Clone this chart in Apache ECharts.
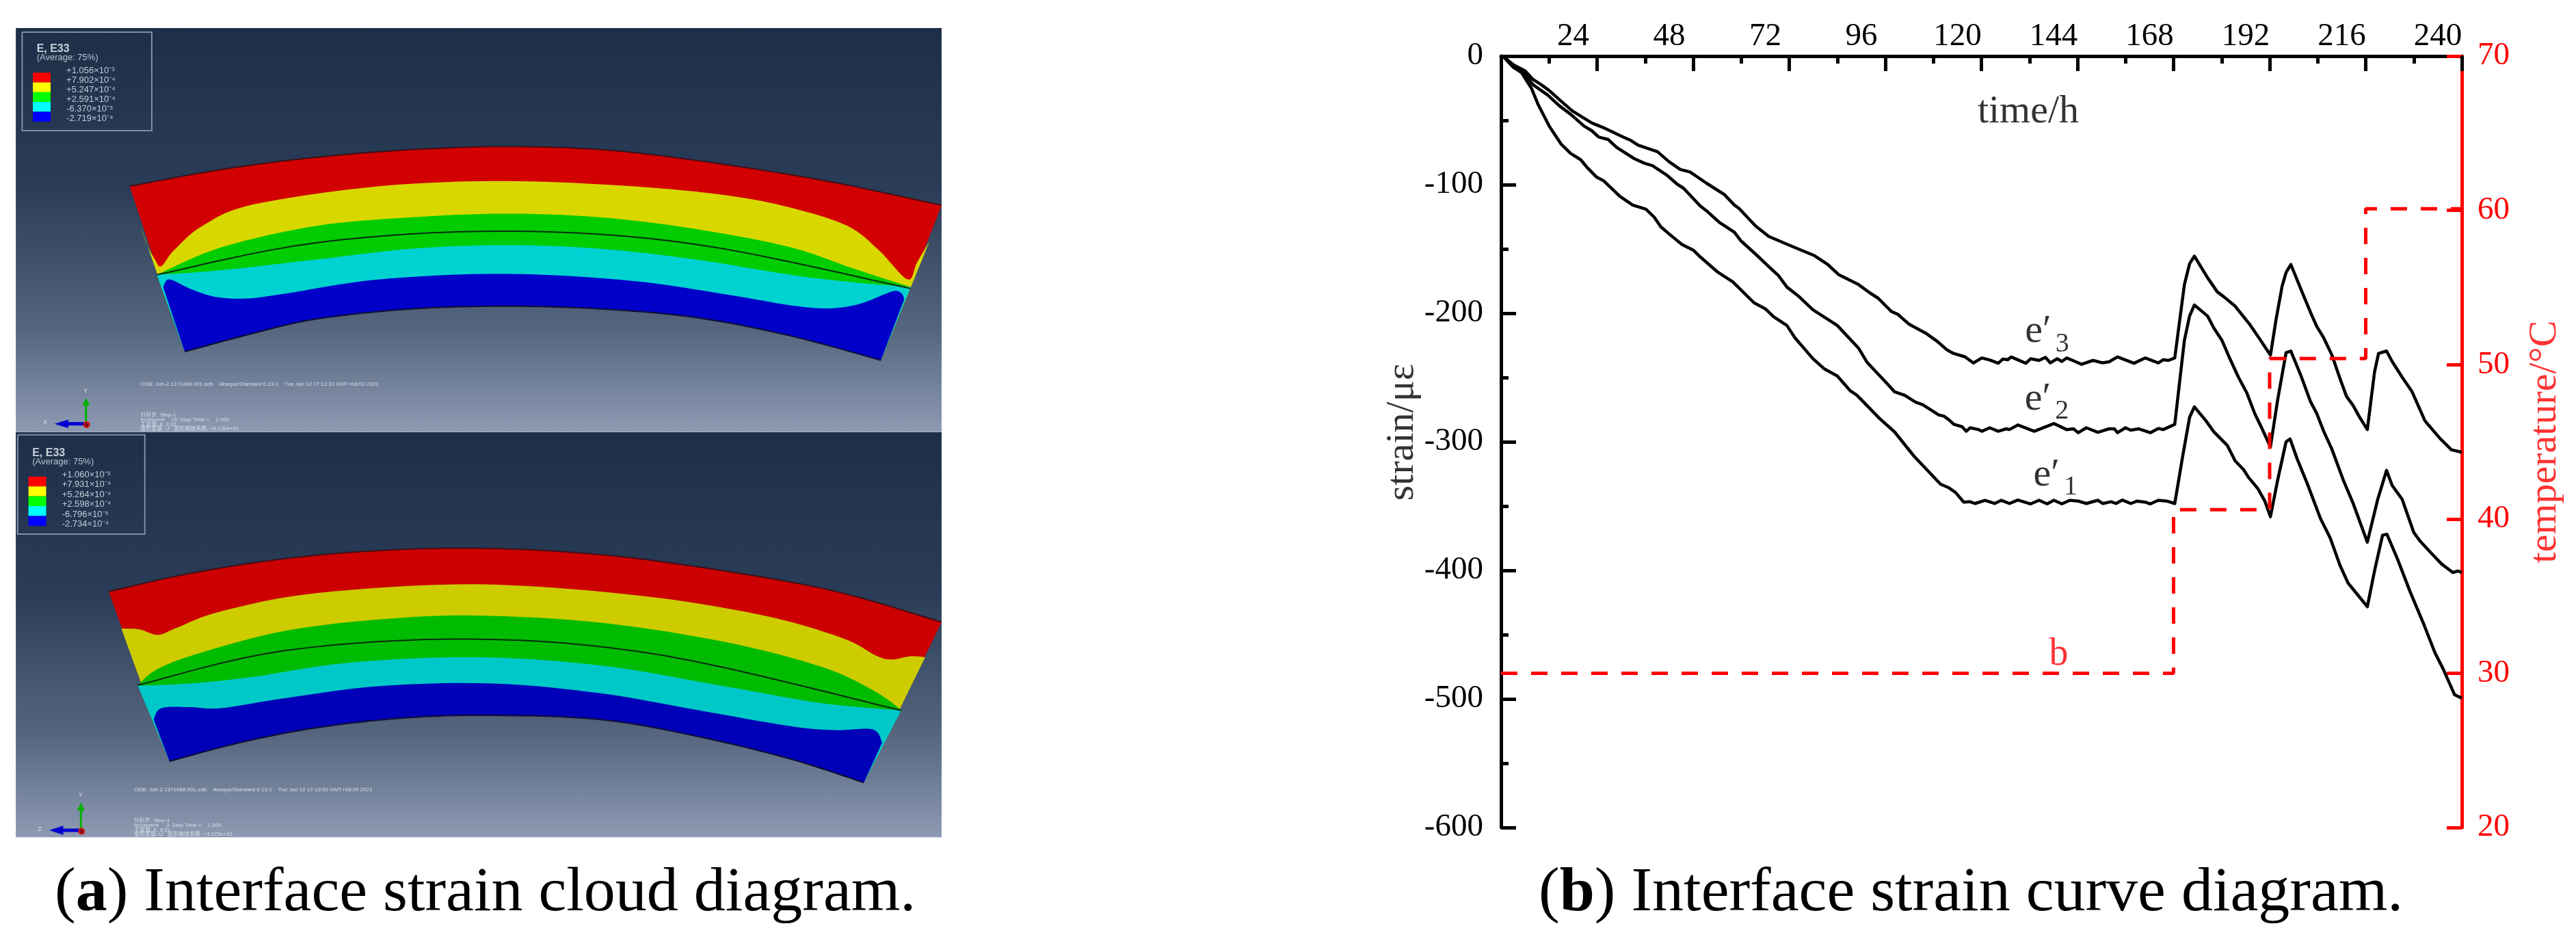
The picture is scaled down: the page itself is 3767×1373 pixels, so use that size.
<!DOCTYPE html>
<html><head><meta charset="utf-8">
<style>html,body{margin:0;padding:0;background:#fff}#c{width:3767px;height:1373px}</style>
<script src="https://cdn.jsdelivr.net/npm/echarts@6/dist/echarts.min.js"></script>
</head><body><div id="c"></div>
<script>
// ---- panel (b) data: [time h, strain]
const e3Curve=[[0,0],[0.65,-0.5],[3.1,-6.8],[6,-11.4],[8,-18.2],[10.05,-22.3],[12.1,-26.9],[15,-35],[17.8,-42.6],[22.7,-52.1],[26,-56.2],[30.1,-62.4],[32.5,-65.7],[34.2,-69.2],[39.1,-74.4],[41.9,-82],[44.8,-88.2],[47.2,-90.1],[51.3,-98.8],[55.8,-107.7],[58.3,-115.9],[59.5,-118.6],[63.6,-132.2],[66.9,-140.3],[72.6,-147.9],[78.3,-155.2],[81.6,-162],[84.4,-170.1],[89.3,-177.7],[92.2,-184.3],[94.2,-188.3],[97.5,-198.6],[99.1,-200.8],[102,-208.7],[106.1,-215.5],[108.9,-221.7],[111.4,-228.5],[113,-231.2],[115.9,-233.9],[118,-238.7],[120.1,-234.8],[122.1,-236.4],[124.2,-238.9],[125.4,-235.6],[126.6,-236.2],[127.4,-234],[131.1,-238.9],[132.3,-235.4],[134.4,-236.7],[136,-234.3],[137.2,-238.6],[138.9,-235.4],[140.1,-237.5],[141.3,-234.8],[143.4,-237.5],[145,-239.7],[147.9,-236.7],[150.3,-238.6],[151.9,-237.8],[154,-234],[158.1,-238.9],[160.9,-234.8],[164.2,-238.6],[165.4,-236.2],[166.7,-236.7],[168.3,-234.8],[170.7,-177.8],[172,-161.5],[173.2,-155.6],[176.5,-172.4],[178.9,-183.3],[180.6,-187.3],[183.4,-194.6],[187.1,-209],[189.5,-219.9],[192.2,-232.6],[193.6,-205],[195.1,-179.2],[196.1,-168.3],[197.3,-162.1],[200.6,-187.3],[202.6,-202.2],[203.8,-210.4],[205.5,-219.1],[207.5,-232.1],[209.6,-251.1],[211.2,-264.7],[212.8,-271.5],[214.5,-281],[216.4,-290.5],[218.2,-245.7],[219.2,-231.3],[221.2,-229.4],[222.6,-237.5],[225.1,-249.7],[227.5,-260.6],[230.8,-283.7],[234.5,-297.2],[237.4,-306.2],[240,-308.1]];
const e2Curve=[[0,0],[0.65,-0.5],[3.1,-8.7],[5.6,-12.8],[8,-22.3],[11.7,-30.4],[14.5,-38.5],[17.4,-45.3],[20.7,-54.3],[22.7,-58.1],[24.4,-63],[26.8,-64.9],[28.9,-71.1],[33.3,-79.8],[35.8,-83.3],[37.8,-85.2],[41.5,-92.8],[44,-99.6],[45.6,-102.8],[49.7,-116.4],[51.7,-121.3],[54.6,-129.5],[58.3,-137],[59.9,-143.6],[64,-155.2],[67.7,-166.1],[69.3,-170.7],[71.4,-179.6],[74.2,-186.4],[77.9,-197.3],[84,-209.5],[89.3,-227.1],[91.4,-238],[96.3,-254.3],[98.3,-261.1],[100.8,-263.8],[103.6,-269.2],[105.3,-271.1],[109.4,-279.2],[110.6,-280],[111.9,-282.9],[113.1,-286.4],[115.2,-288.3],[116.2,-291.8],[117.2,-289.1],[119.3,-290.5],[120.1,-291.8],[122.1,-289.1],[124.2,-291.8],[126.2,-289.9],[127,-290.5],[129.1,-286.9],[133.2,-291.8],[138.1,-285.8],[141.3,-290.5],[143,-289.9],[144.2,-292.9],[146.2,-289.1],[149.1,-292.6],[151.9,-289.9],[153.2,-289.9],[154,-292.9],[156,-289.1],[157.3,-291],[159.3,-289.9],[162.2,-292.9],[164.2,-289.6],[165.4,-290.5],[168.3,-286.4],[170.7,-221.2],[172,-202.2],[173.2,-193.6],[176.5,-202.2],[178.1,-211.7],[180.1,-221.2],[181.8,-233.5],[184.2,-249.7],[186.3,-262],[188.3,-278.2],[190,-289.1],[192.2,-304],[194,-267.4],[196.1,-230.7],[197.3,-229.4],[199.8,-248.4],[202.2,-268.7],[203.8,-278.2],[205.5,-291.8],[207.5,-305.4],[210.4,-329.8],[212.8,-347.4],[216.4,-378.1],[219,-344.7],[221.2,-322.2],[222.6,-333.9],[225.1,-344.7],[228,-370.5],[229.6,-377.3],[232,-385.4],[234.9,-394.9],[237.8,-401.7],[239,-400.4],[240,-401.7]];
const e1Curve=[[0,0],[0.65,-0.5],[3.1,-8.7],[5.1,-12.8],[7.6,-25],[9.2,-37.2],[12.1,-54.8],[15,-68.4],[17.4,-75.7],[19.9,-80.6],[21.5,-86.6],[23.9,-94.2],[25.6,-96.9],[29.7,-109.1],[32.9,-115.9],[36.2,-119.1],[38.3,-125.4],[39.9,-132.7],[41.9,-138.1],[45.2,-146.5],[48.1,-151.1],[49.7,-156],[54.2,-168.2],[57.9,-175.6],[63.2,-191.9],[66,-196.5],[68.1,-202.7],[71.4,-209.5],[73.4,-219],[77.9,-235.3],[80.8,-243.4],[84,-248.8],[87.3,-260.5],[88.9,-263.8],[94.6,-282],[98.3,-292.3],[103.2,-311.3],[109.8,-333],[111.9,-335.8],[113.5,-339.3],[115.6,-346.9],[117.2,-346.6],[118.4,-348],[120.9,-345.5],[123.3,-348],[125,-345.5],[127,-348],[129.1,-345.3],[132.3,-348.3],[134.4,-345.5],[136.4,-348.3],[138.1,-345.5],[140.1,-348.3],[142.1,-345.5],[144.2,-346.1],[146.2,-348],[149.1,-345.5],[150.3,-348],[152.4,-346.6],[153.6,-348],[155.2,-345.3],[157.3,-348],[158.9,-346.1],[160.9,-346.9],[162.2,-348.3],[164.2,-345.5],[166.3,-346.1],[168.3,-348],[170.3,-310.8],[172,-281],[173.2,-272.8],[176.1,-283.7],[178.1,-292.4],[181.4,-302.7],[183.4,-314.9],[185.5,-321.7],[186.7,-327.6],[189.1,-336.6],[190.8,-346.1],[192.2,-358.3],[194,-329.8],[196.1,-300],[197.1,-297.8],[198.9,-313.5],[201.4,-332.5],[204.7,-359.7],[207.1,-374.6],[209.6,-396.3],[211.6,-409.9],[214.1,-419.4],[216.4,-428.3],[218.2,-400.4],[220.2,-372.7],[221.3,-371.9],[223.9,-390.9],[227.1,-416.7],[230.4,-441.1],[233.3,-464.1],[235.3,-476.4],[238.2,-496.7],[240,-499.4]];
const tempCurve=[[0,30],[168,30],[168,40.6],[192,40.6],[192,50.4],[216,50.4],[216,60.1],[240,60.1]];
const curveLabels=[{n:'3',at:[136.4,-214.5]},{n:'2',at:[136.3,-267]},{n:'1',at:[138.5,-325.7]}];
const timeLabelAt=[131.7,-43.5];
const strainLabelAt=[-24.6,-292.6];
const tempLabelAt=[240+20.8,45];
const bLabelAt=[139.3,31.2];
const strainName='strain/με', tempName='temperature/°C', timeName='time/h';
const captionA='Interface strain cloud diagram.', captionB='Interface strain curve diagram.';

// ---- panel (a) illustration: contour outlines in picture units
const topOutlineTop=[[205,610],[350,555],[500,515],[650,490],[800,480],[950,490],[1100,525],[1300,590],[1489,672]];
const topOutlineBottom=[[1393,1180],[1250,1100],[1100,1040],[950,1012],[800,1003],[650,1012],[500,1045],[400,1092],[292,1152]];
const topYellow=[[222,740],[232,800],[245,850],[255,872],[275,820],[320,740],[400,670],[600,610],[800,593],[1000,610],[1150,640],[1250,680],[1340,740],[1390,820],[1435,915],[1450,860],[1470,790]];
const topGreen=[[248,900],[350,810],[500,740],[650,712],[800,700],[950,712],[1100,750],[1250,810],[1350,880],[1440,940]];
const topCyan=[[248,900],[350,885],[500,850],[650,815],[800,803],[950,815],[1100,850],[1250,900],[1350,925],[1440,940]];
const topBlue=[[258,940],[268,915],[300,945],[340,972],[390,978],[450,962],[600,915],[800,897],[1000,920],[1150,965],[1250,1000],[1310,1010],[1360,995],[1410,955],[1425,960],[1430,980]];
const topArc=[[248,900],[500,795],[800,757],[1100,800],[1440,945]];
const botOutlineTop=[[172,510],[300,455],[450,410],[600,385],[750,378],[900,390],[1050,420],[1300,500],[1489,603]];
const botOutlineBottom=[[1366,1092],[1250,1020],[1100,950],[950,900],[780,887],[640,895],[500,925],[380,970],[268,1027]];
const botYellow=[[192,623],[220,625],[250,642],[280,620],[350,570],[500,515],[750,488],[1000,520],[1200,580],[1330,650],[1385,705],[1410,717],[1440,707],[1463,710]];
const botGreen=[[218,795],[250,745],[320,695],[450,630],[600,595],[750,583],[950,605],[1150,665],[1300,740],[1380,810],[1425,870]];
const botCyan=[[218,797],[300,790],[400,770],[550,727],[750,710],[950,735],[1150,800],[1300,850],[1425,872]];
const botBlue=[[243,900],[255,865],[300,862],[350,865],[450,835],[600,798],[780,790],[950,820],[1100,870],[1250,920],[1320,932],[1380,930],[1395,970]];
const botArc=[[218,795],[450,690],[750,655],[1050,705],[1425,872]];
const topScale=['+1.056×10⁻³','+7.902×10⁻⁴','+5.247×10⁻⁴','+2.591×10⁻⁴','-6.370×10⁻⁵','-2.719×10⁻⁴'];
const botScale=['+1.060×10⁻³','+7.931×10⁻⁴','+5.264×10⁻⁴','+2.598×10⁻⁴','-6.796×10⁻⁵','-2.734×10⁻⁴'];
const topNotes=['ODB: Job-2.1371468.001.odb    Abaqus/Standard 6.13-1    Tue Jan 12 17:13:33 GMT+08:00 2021','分析步: Step-1','Increment    15: Step Time =    1.000','主变量: E, E33','变形变量: U   变形缩放系数: +3.132e+01'];
const botNotes=['ODB: Job-2.1371468.001.odb    Abaqus/Standard 6.13-1    Tue Jan 12 17:13:50 GMT+08:00 2021','分析步: Step-4','Increment     3: Step Time =    1.000','主变量: E, E33','变形变量: U   变形缩放系数: +3.372e+01'];

const SERIF='"Liberation Serif","Times New Roman",serif';
const bgStops=(a,b)=>({type:'linear',x:0,y:0,x2:0,y2:1,colorStops:[{offset:0,color:'#1d2f48'},{offset:a,color:'#2a3c57'},{offset:b,color:'#56667f'},{offset:1,color:'#8d9bb3'}]});

// rounds the illustration's contour outlines (not used for any data series)
function rounded(p){
  const out=[];
  for(let i=0;i<p.length-1;i++){
    const a=p[Math.max(i-1,0)],b=p[i],c=p[i+1],d=p[Math.min(i+2,p.length-1)];
    for(let k=0;k<8;k++){
      const t=k/8,t2=t*t,t3=t2*t;
      out.push([0,1].map(j=>0.5*(2*b[j]+(c[j]-a[j])*t+(2*a[j]-5*b[j]+4*c[j]-d[j])*t2+(3*b[j]-a[j]-3*c[j]+d[j])*t3)));
    }
  }
  out.push(p[p.length-1]);
  return out;
}

function buildPanel(o){
  const items=[];
  const poly=(pts,fill)=>items.push({t:'poly',pts,fill});
  const line=(pts,color,w)=>items.push({t:'line',pts,color,w});
  const text=(at,s,size,color,weight)=>items.push({t:'text',at,s,size,color,weight});
  poly(o.frame,bgStops(0.4,0.75));
  const under=rounded(o.outBot), top=rounded(o.outTop);
  poly([...top,...under],o.col[0]);
  poly([...rounded(o.yellow),...under],o.col[1]);
  poly([...rounded(o.green),...under],o.col[2]);
  poly([...rounded(o.cyan),...under],o.col[3]);
  poly([...rounded(o.blue),...under],o.col[4]);
  line(rounded(o.arc),'#0a2a10',2);
  line(top,'#401018',2);
  line(under,'#101030',2);
  // legend
  const b=o.box;
  line([[b[0],b[1]],[b[2],b[1]],[b[2],b[3]],[b[0],b[3]],[b[0],b[1]]],'#7f8ea6',2);
  text([b[0]+23,b[1]+55],'E, E33',16,'#c9d1dc',700);
  text([b[0]+23,b[1]+83],'(Average: 75%)',13,'#b8c2d0',400);
  const sw=['#ff0000','#ffff00','#00ff00','#00ffff','#0000ff'];
  sw.forEach((c,i)=>{
    const y0=o.swY+i*o.swH, y1=y0+o.swH, x0=b[0]+17, x1=x0+28;
    poly([[x0,y0],[x1,y0],[x1,y1],[x0,y1]],c);
  });
  o.scale.forEach((s,i)=>text([b[0]+70,o.valY+i*o.valH],s,13,'#c2cbd8',400));
  // notes
  o.notes.forEach((s,i)=>text([o.noteX,o.noteY[i]],s,8,'#d8dee8',400));
  // triad
  const t=o.tri;
  line([[t[0],t[1]],[t[0],t[1]-65]],'#00b000',3);
  poly([[t[0]-6,t[1]-60],[t[0]+6,t[1]-60],[t[0],t[1]-85]],'#00b000');
  line([[t[0],t[1]],[t[0]-32,t[1]]],'#0000d0',5);
  poly([[t[0]-28,t[1]-14],[t[0]-28,t[1]+14],[t[0]-50,t[1]]],'#0000d0');
  items.push({t:'dot',at:[t[0]+1,t[1]+3],r:4});
  text([t[0]-4,t[1]-108],'Y',9,'#d8dee8',400);
  text([t[0]-68,t[1]-4],o.axisZ,9,'#d8dee8',400);
  return items;
}
const topItems=buildPanel({frame:[[25,92],[1489,92],[1489,1415],[25,1415]],outTop:topOutlineTop,outBot:topOutlineBottom,yellow:topYellow,green:topGreen,cyan:topCyan,blue:topBlue,arc:topArc,
  col:['#d20000','#d8d800','#00cc00','#00d2d2','#0000c8'],box:[35,105,240,428],swY:238,swH:32,scale:topScale,valY:232,valH:31.2,notes:topNotes,noteX:222,noteY:[1258,1360,1375,1390,1405],tri:[136,1388],axisZ:'X'});
const botItems=buildPanel({frame:[[25,25],[1489,25],[1489,1258],[25,1258]],outTop:botOutlineTop,outBot:botOutlineBottom,yellow:botYellow,green:botGreen,cyan:botCyan,blue:botBlue,arc:botArc,
  col:['#cc0000','#cccc00','#00bb00','#00c8c8','#0000b8'],box:[28,33,229,335],swY:160,swH:30,scale:botScale,valY:155,valH:30,notes:botNotes,noteX:212,noteY:[1113,1208,1222,1236,1250],tri:[128,1237],axisZ:'Z'});

function panelSeries(items,ax){
  return {type:'custom',xAxisIndex:ax[0],yAxisIndex:ax[1],coordinateSystem:'cartesian2d',silent:true,clip:false,animation:false,z:1,
    data:items.map((_,i)=>[i,0]),
    renderItem(p,api){
      const it=items[api.value(0)];
      if(it.t==='poly')return {type:'polygon',shape:{points:it.pts.map(q=>api.coord(q))},style:{fill:it.fill,stroke:null}};
      if(it.t==='line')return {type:'polyline',shape:{points:it.pts.map(q=>api.coord(q))},style:{stroke:it.color,lineWidth:it.w,fill:null}};
      if(it.t==='dot'){const c=api.coord(it.at);return {type:'circle',shape:{cx:c[0],cy:c[1],r:it.r},style:{fill:'#7a1020',stroke:'#e01010',lineWidth:2}};}
      const c=api.coord(it.at);
      return {type:'text',x:c[0],y:c[1],style:{text:it.s,fontSize:it.size,fontWeight:it.weight,fill:it.color,verticalAlign:'middle',align:'left',fontFamily:'"Liberation Sans","Noto Sans CJK SC",sans-serif'}};
    }};
}
const hiddenX=i=>({type:'value',gridIndex:i,min:0,max:1568,show:false});
const hiddenY=i=>({type:'value',gridIndex:i,min:0,max:1568,inverse:true,show:false});
const curve=(name,data)=>({name,type:'line',xAxisIndex:0,yAxisIndex:0,data,showSymbol:false,symbol:'none',clip:false,z:5,animation:false,lineStyle:{color:'#000',width:4.5,join:'round'}});
const capRich={n:{fontFamily:SERIF,fontSize:92,fontWeight:400,color:'#000'},b:{fontFamily:SERIF,fontSize:92,fontWeight:700,color:'#000'}};

const chart=echarts.init(document.getElementById('c'),null,{renderer:'canvas',width:3767,height:1373});
chart.setOption({
  animation:false,backgroundColor:'#fff',
  title:[
    {text:'{n|(}{b|a}{n|) '+captionA+'}',left:75,top:1256,textStyle:{fontWeight:400,rich:capRich}},
    {text:'{n|(}{b|b}{n|) '+captionB+'}',left:2245,top:1256,textStyle:{fontWeight:400,rich:capRich}}
  ],
  grid:[
    {left:2195,top:82,width:1405,height:1128},
    {left:0,top:0,width:1450,height:700},
    {left:0,top:620,width:1450,height:753}
  ],
  xAxis:[
    {type:'value',gridIndex:0,position:'top',min:0,max:240,interval:24,
     axisLine:{show:true,onZero:false,lineStyle:{color:'#000',width:5}},
     axisTick:{show:true,inside:true,length:22,lineStyle:{color:'#000',width:5}},
     minorTick:{show:true,splitNumber:2,length:11,lineStyle:{color:'#000',width:5}},
     splitLine:{show:false},minorSplitLine:{show:false},
     axisLabel:{show:true,showMinLabel:false,showMaxLabel:true,margin:5,fontFamily:SERIF,fontSize:47,color:'#000',padding:[0,70,0,0],formatter:v=>v===0?'':String(v)}},
    hiddenX(1),hiddenX(2)
  ],
  yAxis:[
    {type:'value',gridIndex:0,position:'left',min:-600,max:0,interval:100,
     axisLine:{show:true,onZero:false,lineStyle:{color:'#000',width:5}},
     axisTick:{show:true,inside:true,length:22,lineStyle:{color:'#000',width:5}},
     minorTick:{show:true,splitNumber:2,length:11,lineStyle:{color:'#000',width:5}},
     splitLine:{show:false},minorSplitLine:{show:false},
     axisLabel:{margin:26,fontFamily:SERIF,fontSize:47,color:'#000'}},
    {type:'value',gridIndex:0,position:'right',min:20,max:70,interval:10,
     axisLine:{show:true,onZero:false,lineStyle:{color:'#f00',width:5}},
     axisTick:{show:true,inside:true,length:22,lineStyle:{color:'#f00',width:5}},
     minorTick:{show:false},splitLine:{show:false},minorSplitLine:{show:false},
     axisLabel:{margin:23,fontFamily:SERIF,fontSize:47,color:'#f00'}},
    hiddenY(1),hiddenY(2)
  ],
  series:[
    panelSeries(topItems,[1,2]),
    panelSeries(botItems,[2,3]),
    curve('e3',e3Curve),curve('e2',e2Curve),curve('e1',e1Curve),
    {name:'b',type:'line',xAxisIndex:0,yAxisIndex:1,data:tempCurve,showSymbol:false,symbol:'none',clip:false,z:6,animation:false,lineStyle:{color:'#f00',width:5,type:[24,20]}},
    {type:'scatter',xAxisIndex:0,yAxisIndex:0,symbolSize:0,silent:true,clip:false,z:7,animation:false,
     data:curveLabels.map(l=>({value:l.at,label:{show:true,position:'inside',formatter:'{e|e′}{s|'+l.n+'}',rich:{e:{fontFamily:SERIF,fontSize:58,color:'#000'},s:{fontFamily:SERIF,fontSize:40,color:'#000',padding:[36,0,0,6]}}}}))},
    {type:'scatter',xAxisIndex:0,yAxisIndex:0,symbolSize:0,silent:true,clip:false,z:7,animation:false,
     data:[{value:timeLabelAt,label:{show:true,position:'inside',formatter:timeName,fontFamily:SERIF,fontSize:58,color:'#000'}},
           {value:strainLabelAt,label:{show:true,position:'inside',rotate:90,formatter:strainName,fontFamily:SERIF,fontSize:58,color:'#000'}}]},
    {type:'scatter',xAxisIndex:0,yAxisIndex:1,symbolSize:0,silent:true,clip:false,z:7,animation:false,
     data:[{value:bLabelAt,label:{show:true,position:'inside',formatter:'b',fontFamily:SERIF,fontSize:56,color:'#f00'}},
           {value:tempLabelAt,label:{show:true,position:'inside',rotate:90,formatter:tempName,fontFamily:SERIF,fontSize:58,color:'#f00'}}]}
  ]
});
</script></body></html>
